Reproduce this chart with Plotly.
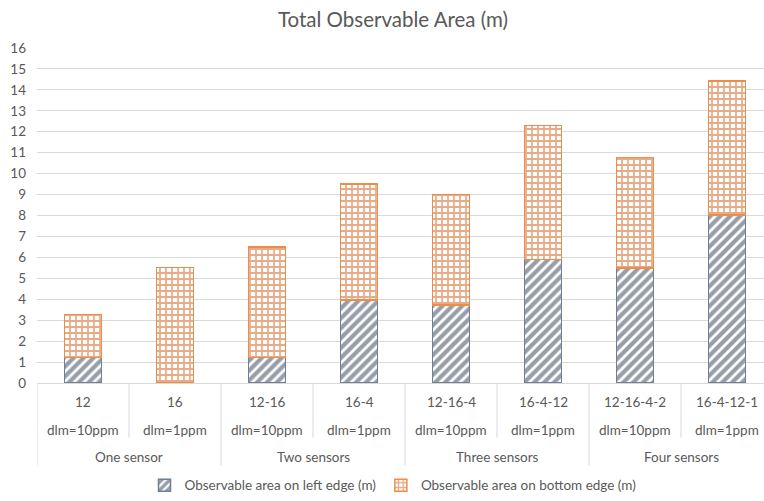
import plotly.graph_objects as go

# Sensor configurations and detection limits
configs = ["12", "16", "12-16", "16-4", "12-16-4", "16-4-12", "12-16-4-2", "16-4-12-1"]
limits = ["dlm=10ppm", "dlm=1ppm"] * 4
groups = ["One sensor", "Two sensors", "Three sensors", "Four sensors"]

# Observable area per edge (m)
left_edge = [1.22, 0.0, 1.22, 3.96, 3.72, 5.90, 5.49, 8.02]
bottom_edge = [2.06, 5.52, 5.27, 5.55, 5.29, 6.40, 5.27, 6.40]

TEXT = "#595959"
GRID = "#d9d9d9"
FONT = "Lato"
LBL = 13.5

# plot area geometry in pixels
W, H = 764, 501
L, R, T, B = 37, 0, 48, 116
plot_h = H - T - B
plot_w = W - L - R
cat_px = 92.0


def py2paper(py):
    return (H - B - py) / plot_h


x = list(range(len(configs)))

fig = go.Figure()
fig.add_trace(go.Bar(
    x=x, y=left_edge, name="Observable area on left edge (m)",
    width=0.405,
    marker=dict(color="white",
                line=dict(color="#6f7f96",
                          width=[1.5 if v > 0 else 0 for v in left_edge]),
                pattern=dict(shape="/", fgcolor="#2f3d52", bgcolor="white",
                             size=7, solidity=0.6)),
))
fig.add_trace(go.Bar(
    x=x, y=bottom_edge, name="Observable area on bottom edge (m)",
    width=0.405,
    marker=dict(color="white",
                line=dict(color="#ef8c48", width=1.5),
                pattern=dict(shape="+", fgcolor="#d2570f", bgcolor="white",
                             size=6, solidity=0.5)),
))

shapes = []
annotations = []
y_row1 = py2paper(404)
y_row2 = py2paper(432)
y_row3 = py2paper(459)
y_inner_end = py2paper(440)
y_outer_end = py2paper(468)

# category and limit labels
for i, (c, d) in enumerate(zip(configs, limits)):
    annotations.append(dict(x=i, y=y_row1, xref="x", yref="paper", text=c,
                            showarrow=False, yanchor="middle",
                            font=dict(size=LBL, color=TEXT, family=FONT)))
    annotations.append(dict(x=i, y=y_row2, xref="x", yref="paper", text=d,
                            showarrow=False, yanchor="middle",
                            font=dict(size=LBL, color=TEXT, family=FONT)))

# group labels
for g, name in enumerate(groups):
    annotations.append(dict(x=2 * g + 0.5, y=y_row3, xref="x", yref="paper",
                            text=name, showarrow=False, yanchor="middle",
                            font=dict(size=LBL, color=TEXT, family=FONT)))

# axis separators
for k in range(len(configs) + 1):
    xb = k - 0.5
    y_end = y_outer_end if k % 2 == 0 else y_inner_end
    shapes.append(dict(type="line", xref="x", yref="paper", x0=xb, x1=xb,
                       y0=0, y1=y_end, line=dict(color=GRID, width=1)))

fig.update_layout(
    barmode="stack",
    width=W, height=H,
    margin=dict(l=L, r=R, t=T, b=B, pad=0),
    paper_bgcolor="white", plot_bgcolor="white",
    font=dict(family=FONT, color=TEXT, size=12),
    title=dict(text="Total Observable Area (m)", x=393 / W, xref="container",
               xanchor="center", y=1 - 20 / H, yanchor="middle",
               font=dict(size=20.5, color=TEXT, family=FONT)),
    xaxis=dict(range=[-0.5, -0.5 + plot_w / cat_px], showticklabels=False,
               showgrid=False, zeroline=False, showline=True,
               linecolor=GRID, linewidth=1, ticks=""),
    yaxis=dict(range=[0, 16], dtick=1, showgrid=True, gridcolor=GRID,
               gridwidth=1, zeroline=False, showline=False, ticks="",
               tickfont=dict(size=LBL, color=TEXT, family=FONT),
               ticklabelstandoff=10),
    legend=dict(orientation="h", x=(393 - L) / plot_w, xanchor="center",
                y=py2paper(488), yanchor="middle",
                font=dict(size=LBL, color=TEXT, family=FONT),
                itemwidth=30, traceorder="normal"),
    shapes=shapes,
    annotations=annotations,
    showlegend=True,
)

fig.write_html("out.html")
